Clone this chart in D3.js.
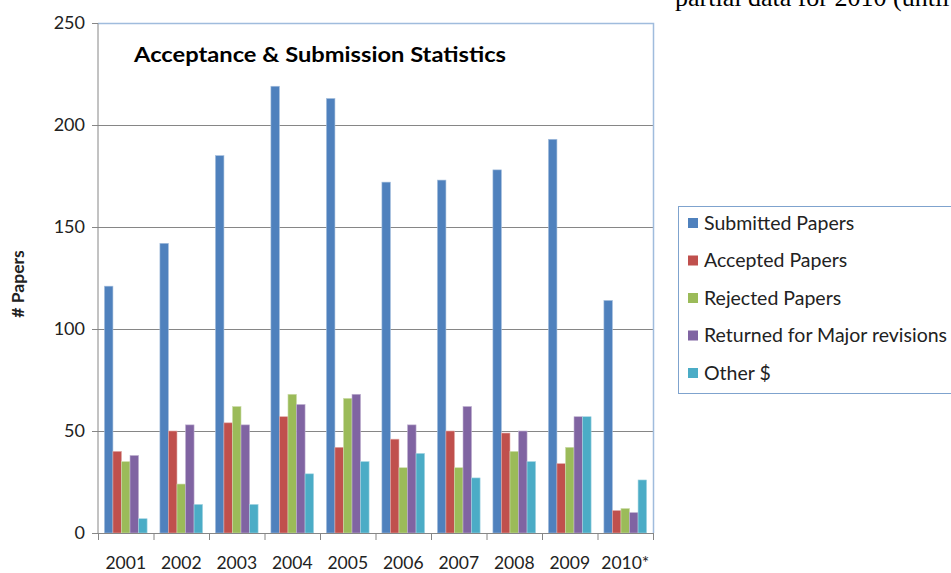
<!DOCTYPE html>
<html>
<head>
<meta charset="utf-8">
<script src="https://cdn.jsdelivr.net/npm/d3@7/dist/d3.min.js"></script>
<style>
  html, body { margin: 0; padding: 0; background: #fff; overflow: hidden; }
  svg { display: block; }
  text { font-family: Lato, "Open Sans", sans-serif; }
</style>
</head>
<body>
<svg id="chart" width="951" height="573"></svg>
<script>
const years = ["2001","2002","2003","2004","2005","2006","2007","2008","2009","2010*"];
const seriesNames = ["Submitted Papers","Accepted Papers","Rejected Papers","Returned for Major revisions","Other $"];
const submitted = [121,142,185,219,213,172,173,178,193,114];
const accepted  = [40,50,54,57,42,46,50,49,34,11];
const rejected  = [35,24,62,68,66,32,32,40,42,12];
const returned  = [38,53,53,63,68,53,62,50,57,10];
const other     = [7,14,14,29,35,39,27,35,57,26];
const yTicks = [0,50,100,150,200,250];
const colors = ["#4F81BD","#C0504D","#9BBB59","#8064A2","#4BACC6"];
const strokes = ["#A7C0DE","#E0A8A6","#CDDDAC","#BFB1D0","#A5D5E2"];

const allSeries = [submitted, accepted, rejected, returned, other];

const svg = d3.select("#chart");
const pLeft = 98, pRight = 653, pTop = 23, pBottom = 533;

const x0 = d3.scaleBand().domain(years).range([pLeft, pRight]).paddingInner(0).paddingOuter(0);
const x1 = d3.scaleBand().domain(d3.range(seriesNames.length)).range([0, x0.bandwidth()]).paddingInner(0).paddingOuter(0.75);
const y = d3.scaleLinear().domain([0, 250]).range([pBottom, pTop]);

// top-right document text (clipped by the page edge in the source image)
svg.append("text")
  .attr("x", 675).attr("y", 6)
  .style("font-family", "'Liberation Serif', 'DejaVu Serif', serif")
  .style("font-size", "26px")
  .attr("fill", "#000")
  .text("partial data for 2010 (until");

// gridlines
svg.append("g")
  .selectAll("line")
  .data(yTicks.filter(d => d > 0 && d < 250))
  .join("line")
  .attr("x1", pLeft).attr("x2", pRight)
  .attr("y1", d => y(d) + 0.5).attr("y2", d => y(d) + 0.5)
  .attr("stroke", "#868686").attr("stroke-width", 1);

// plot area border (top & right)
svg.append("path")
  .attr("d", `M${pLeft},${pTop + 0.5}H${pRight + 0.5}V${pBottom}`)
  .attr("fill", "none").attr("stroke", "#A0BCDD").attr("stroke-width", 1.5);

// bars
const groups = svg.append("g")
  .selectAll("g")
  .data(years)
  .join("g")
  .attr("transform", d => `translate(${x0(d)},0)`);

groups.selectAll("rect")
  .data((d, i) => allSeries.map((s, k) => ({k, v: s[i]})))
  .join("rect")
  .attr("x", d => x1(d.k))
  .attr("width", x1.bandwidth())
  .attr("y", d => y(d.v))
  .attr("height", d => y(0) - y(d.v))
  .attr("fill", d => colors[d.k])
  .attr("stroke", d => strokes[d.k])
  .attr("stroke-width", 0.6);

// y axis
const yAxis = d3.axisLeft(y).tickValues(yTicks).tickSize(6).tickPadding(7);
const gy = svg.append("g").attr("transform", `translate(${pLeft},0)`).call(yAxis);
gy.select(".domain").attr("stroke", "#868686").attr("d", `M-6,${pTop + 0.5}H0V${pBottom + 0.5}H-6`);
gy.selectAll(".tick line").attr("stroke", "#868686");
gy.selectAll(".tick text").style("font-family", "Lato, sans-serif").style("font-size", "18px").attr("fill", "#222");

// x axis
const xAxis = d3.axisBottom(x0).tickSize(0).tickPadding(24);
const gx = svg.append("g").attr("transform", `translate(0,${pBottom})`).call(xAxis);
gx.select(".domain").attr("stroke", "#868686").attr("d", `M${pLeft},0.5H${pRight + 1}`);
gx.selectAll(".tick text").style("font-family", "Lato, sans-serif").style("font-size", "17.5px").attr("fill", "#222");
// category boundary ticks
svg.append("g")
  .selectAll("line")
  .data(years.concat(["__end"]))
  .join("line")
  .attr("x1", d => (d === "__end" ? pRight : x0(d)) + 0.5)
  .attr("x2", d => (d === "__end" ? pRight : x0(d)) + 0.5)
  .attr("y1", pBottom).attr("y2", pBottom + 7)
  .attr("stroke", "#868686");

// y axis title
svg.append("text")
  .attr("transform", "translate(24,284) rotate(-90)")
  .attr("text-anchor", "middle")
  .style("font-size", "17.5px").style("font-weight", "bold")
  .attr("fill", "#222")
  .text("# Papers");

// chart title
svg.append("text")
  .attr("x", 134).attr("y", 62)
  .attr("textLength", 372).attr("lengthAdjust", "spacingAndGlyphs")
  .style("font-size", "21px").style("font-weight", "bold")
  .attr("fill", "#000")
  .text("Acceptance & Submission Statistics");

// legend
svg.append("rect")
  .attr("x", 678.5).attr("y", 206.5).attr("width", 290).attr("height", 187)
  .attr("fill", "#fff").attr("stroke", "#7FA3CE").attr("stroke-width", 1);

const leg = svg.append("g")
  .selectAll("g")
  .data(seriesNames)
  .join("g")
  .attr("transform", (d, i) => `translate(688,${223 + i * 37.5})`);
leg.append("rect").attr("x", 0).attr("y", -5).attr("width", 10).attr("height", 10)
  .attr("fill", (d, i) => colors[i]);
leg.append("text").attr("x", 16).attr("y", 0).attr("dy", "0.35em")
  .style("font-size", "19.5px").attr("fill", "#222")
  .text(d => d);
</script>
</body>
</html>
